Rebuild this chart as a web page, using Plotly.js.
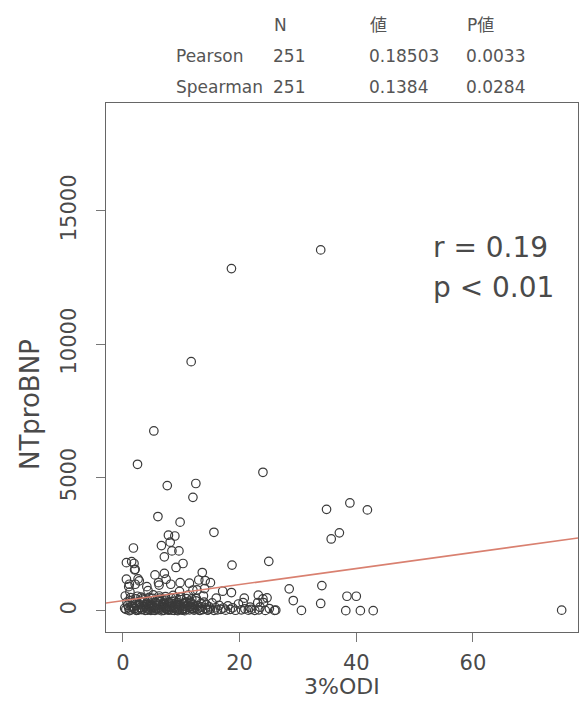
<!DOCTYPE html>
<html>
<head>
<meta charset="utf-8">
<script src="https://cdn.plot.ly/plotly-3.0.1.min.js"></script>
<style>html,body{margin:0;padding:0;background:#fff;}#chart{width:579px;height:701px;}</style>
</head>
<body>
<div id="chart"></div>
<script>
// ---- data ----
// points away from the dense cluster
const odiUpper = [33.9,18.6,11.7,5.3,2.5,7.6,12.5,12.0,24.0,6.0,
  9.8,15.6,7.8,8.9,8.1,1.8,6.6,8.4,9.6,7.1,
  10.3,9.1,18.7,25.0,0.6,1.5,1.9,2.1,0.6,2.6,
  2.8,1.1,2.1,5.5,7.1,6.1,7.4,8.2,9.8,11.4,
  13.6,13.0,14.1,15.0,17.1,18.6,16.0,20.8,23.2,24.7,
  28.5,29.2,34.9,38.9,41.9,35.7,37.1,34.1,30.6,33.9,
  38.4,40.0,38.2,40.7,42.9,75.2,26.2,21.8,23.5,23.1,
  24.1,20.6,24.0,14.0,0.4,1.2,4.3,12.0,12.7,9.7,
  6.2,4.1,1.0,2.0];
const bnpUpper = [13540,12840,9350,6750,5500,4700,4780,4260,5200,3540,
  3330,2950,2840,2810,2580,2360,2450,2250,2250,2030,
  1780,1630,1720,1860,1810,1850,1780,1560,1190,1200,
  1130,1000,1000,1350,1410,1060,1190,1000,1060,1040,
  1440,1160,1140,1060,740,690,480,480,590,490,
  830,390,3810,4050,3790,2700,2930,950,20,280,
  550,550,10,10,10,30,30,140,140,310,
  310,310,450,840,560,710,760,780,790,730,
  970,910,910,1540];
// dense cluster near the bottom
const odiCluster = [0.5,0.8,1.0,1.2,1.4,1.6,1.8,2.0,2.2,2.4,
  2.6,2.8,3.0,3.1,3.3,3.5,3.6,3.8,4.0,4.1,
  4.3,4.4,4.6,4.7,4.9,5.0,5.1,5.3,5.4,5.6,
  5.7,5.8,6.0,6.1,6.2,6.4,6.5,6.6,6.8,6.9,
  7.0,7.1,7.2,7.4,7.5,7.6,7.8,7.9,8.0,8.1,
  8.3,8.4,8.5,8.7,8.8,8.9,9.0,9.2,9.3,9.4,
  9.6,9.7,9.8,10.0,10.1,10.2,10.4,10.5,10.7,10.8,
  11.0,11.1,11.3,11.4,11.6,11.7,11.9,12.0,12.2,12.3,
  12.5,12.7,12.8,13.0,13.2,13.4,13.5,13.7,13.9,14.1,
  14.3,14.5,14.8,15.0,15.3,15.6,15.9,16.2,16.5,16.8,
  17.2,17.6,18.0,18.4,18.8,19.3,19.8,20.3,20.9,21.5,
  22.0,22.6,23.3,24.4,25.1,26.0,1.3,2.5,3.4,4.5,
  5.2,6.3,7.3,8.6,9.9,11.2,12.6,13.8,0.7,1.9,
  2.9,3.9,4.8,5.9,6.7,7.7,8.2,9.1,9.5,10.3,
  10.9,11.5,12.1,3.2,4.2,5.5,6.6,7.9,2.3,1.1,
  8.8,9.4,10.6,13.1,14.6,3.7,4.6,6.1,7.2,8.4,
  0.3,1.5,2.7,5.0,6.9,10.5,11.8];
const bnpCluster = [60,220,120,380,40,300,150,90,450,200,
  30,260,130,520,70,180,340,20,240,110,
  400,60,150,280,90,210,470,35,130,320,
  80,190,260,45,560,120,350,70,230,160,
  20,290,410,100,180,55,320,140,250,75,
  480,30,200,130,370,90,160,240,40,310,
  110,60,200,420,150,25,270,95,180,340,
  70,220,130,40,300,170,90,250,30,140,
  380,60,200,110,20,280,150,50,330,100,
  230,30,150,70,300,20,120,40,210,60,
  110,30,190,60,120,25,260,40,80,30,
  60,20,40,20,90,20,500,550,470,510,
  600,480,540,580,520,590,460,560,330,80,
  370,150,20,90,430,40,160,500,230,60,
  460,370,80,50,30,20,10,30,20,15,
  20,15,10,30,40,420,240,390,100,350,
  100,180,60,140,270,310,450];
// regression line
const fitIntercept = 387;
const fitSlope = 30.1;
// axis ticks
const xTicks = [0, 20, 40, 60];
const yTicks = [0, 5000, 10000, 15000];
// statistics table
const tableHeader = ["N", "値", "P値"];
const tableRows = [
  ["Pearson", "251", "0.18503", "0.0033"],
  ["Spearman", "251", "0.1384", "0.0284"]
];
const statText = ["r = 0.19", "p &lt; 0.01"];

// ---- layout geometry (pixels) ----
const W = 579, H = 701;
const L = 106, R = 578, T = 103, B = 632;
const PW = R - L, PH = B - T;
const px = x => (x - L) / PW;
const py = y => (B - y) / PH;

const xRange = [-2.9, 78];
const yRange = [-790, 19050];

const xs = odiUpper.concat(odiCluster);
const ys = bnpUpper.concat(bnpCluster);

const FONT = "DejaVu Sans, Noto Sans CJK JP, sans-serif";
const txt = "#4a4a4a";

const traces = [
  {
    type: "scatter", mode: "markers", x: xs, y: ys,
    marker: {symbol: "circle-open", size: 8.5, color: "#3a3a3a", line: {width: 1.2, color: "#3a3a3a"}},
    hoverinfo: "skip", showlegend: false
  },
  {
    type: "scatter", mode: "lines",
    x: xRange, y: xRange.map(v => fitIntercept + fitSlope * v),
    line: {color: "#d98070", width: 1.6},
    hoverinfo: "skip", showlegend: false
  }
];

const ann = [];
const headerX = [272, 368, 465];
tableHeader.forEach((t, i) => ann.push({text: t, x: px(headerX[i]), y: py(25)}));
const colX = [174, 271, 367, 464];
const rowY = [56, 87];
tableRows.forEach((row, r) => row.forEach((t, c) => ann.push({text: t, x: px(colX[c]), y: py(rowY[r])})));
ann.forEach(a => Object.assign(a, {xref: "paper", yref: "paper", xanchor: "left", yanchor: "middle",
  showarrow: false, font: {family: FONT, size: 17, color: "#555"}}));

ann.push({text: statText[0], x: px(431), y: py(248), xref: "paper", yref: "paper", xanchor: "left", yanchor: "middle",
  showarrow: false, font: {family: FONT, size: 28, color: txt}});
ann.push({text: statText[1], x: px(431), y: py(287), xref: "paper", yref: "paper", xanchor: "left", yanchor: "middle",
  showarrow: false, font: {family: FONT, size: 28, color: txt}});
ann.push({text: "3%ODI", x: px(342), y: py(687), xref: "paper", yref: "paper", xanchor: "center", yanchor: "middle",
  showarrow: false, font: {family: FONT, size: 22, color: txt}});
ann.push({text: "NTproBNP", x: px(30), y: py(405), xref: "paper", yref: "paper", xanchor: "center", yanchor: "middle",
  textangle: -90, showarrow: false, font: {family: FONT, size: 26, color: txt}});

const layout = {
  width: W, height: H,
  margin: {l: L, r: W - R, t: T, b: H - B, pad: 0},
  paper_bgcolor: "#ffffff", plot_bgcolor: "#ffffff",
  showlegend: false,
  xaxis: {
    range: xRange, tickvals: xTicks, ticktext: xTicks.map(String),
    ticks: "outside", ticklen: 9, tickwidth: 1, tickcolor: "#777",
    ticklabelstandoff: 3,
    showline: true, mirror: true, linecolor: "#666", linewidth: 1,
    showgrid: false, zeroline: false,
    tickfont: {family: FONT, size: 21, color: txt}
  },
  yaxis: {
    range: yRange, tickvals: yTicks, ticktext: yTicks.map(String),
    ticks: "outside", ticklen: 9, tickwidth: 1, tickcolor: "#777",
    tickangle: -90, ticklabelstandoff: 12,
    showline: true, mirror: true, linecolor: "#666", linewidth: 1,
    showgrid: false, zeroline: false,
    tickfont: {family: FONT, size: 21, color: txt}
  },
  annotations: ann
};

Plotly.newPlot("chart", traces, layout, {displayModeBar: false, staticPlot: true});
</script>
</body>
</html>
